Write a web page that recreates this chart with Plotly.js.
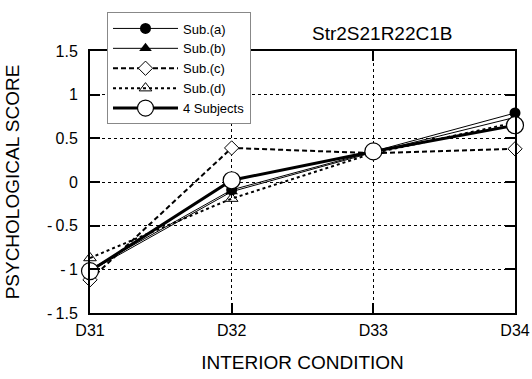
<!DOCTYPE html>
<html>
<head>
<meta charset="utf-8">
<script src="https://cdn.plot.ly/plotly-3.0.1.min.js"></script>
<style>html,body{margin:0;padding:0;background:#fff;}#chart{width:532px;height:379px;}</style>
</head>
<body>
<div id="chart"></div>
<script>
const conditions = ["D31", "D32", "D33", "D34"];
const subA = [-1.00, -0.09, 0.35, 0.79];
const subB = [-1.02, -0.11, 0.34, 0.74];
const subC = [-1.12, 0.39, 0.33, 0.38];
const subD = [-0.87, -0.19, 0.33, 0.68];
const allSubjects = [-1.02, 0.02, 0.35, 0.65];
const yTickVals = [-1.5, -1, -0.5, 0, 0.5, 1, 1.5];
const yTickText = ["-\u20091.5", "-\u20091", "-\u20090.5", "0", "0.5", "1", "1.5"];

const xIdx = conditions.map((c, i) => i);

function tr(name, y, line, marker, rank) {
  return {x: xIdx, y: y, name: name, type: "scatter", mode: "lines+markers",
          line: line, marker: marker, cliponaxis: false, legendrank: rank};
}
const traces = [
  tr("Sub.(d)", subD, {color: "#000", width: 2, dash: "3px,3px"},
     {symbol: "triangle-up-open", size: 11, color: "#000", line: {width: 1, color: "#000"}}, 4),
  tr("Sub.(c)", subC, {color: "#000", width: 2, dash: "5px,3px"},
     {symbol: "diamond", size: 11, color: "#fff", line: {width: 1, color: "#000"}}, 3),
  tr("Sub.(b)", subB, {color: "#000", width: 1},
     {symbol: "triangle-up", size: 11, color: "#000"}, 2),
  tr("Sub.(a)", subA, {color: "#000", width: 1},
     {symbol: "circle", size: 11, color: "#000"}, 1),
  tr("4 Subjects", allSubjects, {color: "#000", width: 3},
     {symbol: "circle", size: 17, color: "#fff", line: {width: 1.2, color: "#000"}}, 5)
];

const layout = {
  width: 532, height: 379,
  margin: {l: 90, r: 17, t: 47, b: 66},
  paper_bgcolor: "#fff", plot_bgcolor: "#fff",
  font: {family: "Liberation Sans, Arial, sans-serif", color: "#000", size: 15},
  showlegend: true,
  legend: {x: 0.04, xanchor: "left", y: 1.147, yanchor: "top",
           bgcolor: "#fff", bordercolor: "#888", borderwidth: 1,
           font: {size: 13}, itemwidth: 65, tracegroupgap: 0, traceorder: "normal"},
  annotations: [{text: "Str2S21R22C1B", xref: "paper", yref: "paper", x: 0.687, y: 1.0,
                 xanchor: "center", yanchor: "bottom", yshift: 5, showarrow: false,
                 font: {size: 19}}],
  xaxis: {
    range: [0, 3], tickvals: xIdx, ticktext: conditions,
    showline: true, linecolor: "#000", linewidth: 2, mirror: "ticks",
    ticks: "inside", ticklen: 10, tickwidth: 2, tickcolor: "#000",
    showgrid: true, gridcolor: "#000", gridwidth: 1, griddash: "3px,3px",
    zeroline: false, tickfont: {size: 16}, ticklabelstandoff: 2,
    title: {text: "INTERIOR CONDITION", font: {size: 19}, standoff: 17}
  },
  yaxis: {
    range: [-1.5, 1.5], tickvals: yTickVals, ticktext: yTickText,
    showline: true, linecolor: "#000", linewidth: 2, mirror: "ticks",
    ticks: "inside", ticklen: 10, tickwidth: 2, tickcolor: "#000",
    showgrid: true, gridcolor: "#000", gridwidth: 1, griddash: "3px,3px",
    zeroline: false, tickfont: {size: 16}, ticklabelstandoff: 7,
    title: {text: "PSYCHOLOGICAL SCORE", font: {size: 19}, standoff: 22}
  }
};
Plotly.newPlot("chart", traces, layout, {displayModeBar: false, staticPlot: true});
</script>
</body>
</html>
